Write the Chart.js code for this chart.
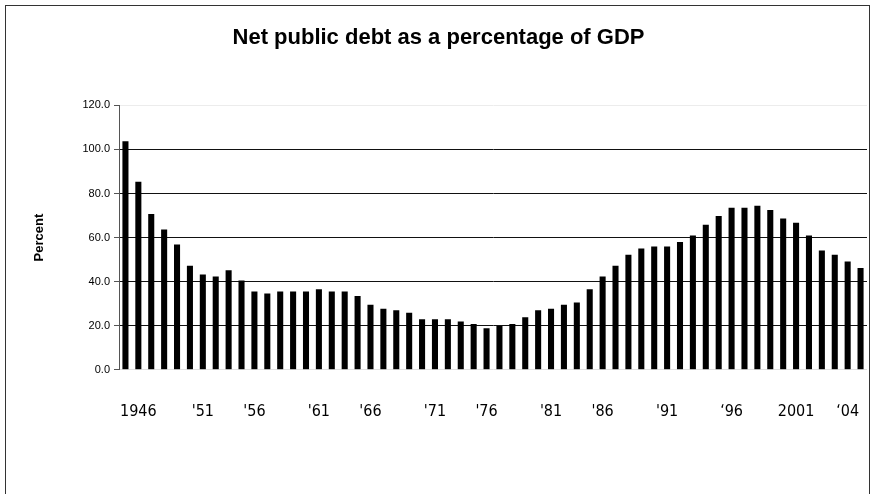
<!DOCTYPE html>
<html>
<head>
<title>Net public debt as a percentage of GDP</title>
<style>
  body { margin:0; background:#fff; }
  #frame { position:absolute; left:5px; top:5px; width:863px; height:520px; border:1px solid #333; }
  #debt { position:absolute; left:0; top:0; }
</style>
</head>
<body>
<div id="frame"></div>
<canvas id="debt" width="875" height="494"></canvas>
<script src="https://cdn.jsdelivr.net/npm/chart.js@4.4.1/dist/chart.umd.min.js"></script>
<script>
// one bar per year, 1946 onwards (58 bars)
const xTickLabels = [
  '', '1946', '', '', '', '', "'51", '', '', '', "'56", '', '', '', '',
  "'61", '', '', '', "'66", '', '', '', '', "'71", '', '', '', "'76", '',
  '', '', '', "'81", '', '', '', "'86", '', '', '', '', "'91", '', '',
  '', '', '\u201896', '', '', '', '', '2001', '', '', '', '\u201804', ''
];
const debtPct = [
  103.7, 85.3, 70.7, 63.7, 56.9, 47.2, 43.2, 42.3, 45.2, 40.5,
  35.5, 34.6, 35.5, 35.5, 35.5, 36.6, 35.5, 35.5, 33.5, 29.5,
  27.7, 27.0, 25.9, 22.9, 22.9, 22.9, 21.9, 20.8, 18.9, 19.9,
  20.8, 23.9, 27.0, 27.7, 29.5, 30.6, 36.6, 42.3, 47.2, 52.2,
  55.1, 56.0, 56.0, 58.0, 60.9, 65.8, 69.8, 73.6, 73.6, 74.5,
  72.5, 68.7, 66.7, 60.9, 54.1, 52.2, 49.2, 46.2
];
const yTicks = [0, 20, 40, 60, 80, 100, 120];

const ctx = document.getElementById('debt').getContext('2d');
new Chart(ctx, {
  type: 'bar',
  data: {
    labels: xTickLabels,
    datasets: [{
      label: 'Net public debt',
      data: debtPct,
      backgroundColor: '#000',
      barPercentage: 0.47,
      categoryPercentage: 1.0
    }]
  },
  options: {
    responsive: false,
    animation: false,
    layout: { padding: { top: 20, left: 10, right: 8, bottom: 49 } },
    plugins: {
      legend: { display: false },
      tooltip: { enabled: false },
      title: {
        display: true,
        text: 'Net public debt as a percentage of GDP',
        color: '#000',
        font: { family: 'Liberation Sans, Arial', size: 22, weight: 'bold' },
        padding: { top: 5, bottom: 54 }
      }
    },
    scales: {
      x: {
        grid: { display: false },
        border: { display: false },
        // tick padding would otherwise widen the side margins
        afterFit: s => { s.paddingLeft = 0; s.paddingRight = 0; },
        ticks: {
          autoSkip: false,
          maxRotation: 0,
          padding: 24,
          color: '#000',
          font: { family: 'Liberation Sans Narrow, DejaVu Sans Condensed, Liberation Sans', size: 16 }
        }
      },
      y: {
        min: 0,
        max: 120,
        afterBuildTicks: s => { s.ticks = yTicks.map(v => ({ value: v })); },
        afterFit: s => { s.width = 109; },
        border: { display: true, color: '#555' },
        grid: {
          color: c => c.tick.value === 120 ? '#ececec' : (c.tick.value === 0 ? '#e0e0e0' : '#111'),
          tickColor: '#555',
          tickLength: 5
        },
        ticks: {
          padding: 4,
          color: '#000',
          font: { family: 'Liberation Sans, Arial', size: 11 },
          callback: v => v.toFixed(1)
        },
        title: {
          display: true,
          text: 'Percent',
          color: '#000',
          font: { family: 'Liberation Sans, Arial', size: 13, weight: 'bold' },
          padding: { top: 22, bottom: 0 }
        }
      }
    }
  }
});
</script>
</body>
</html>
